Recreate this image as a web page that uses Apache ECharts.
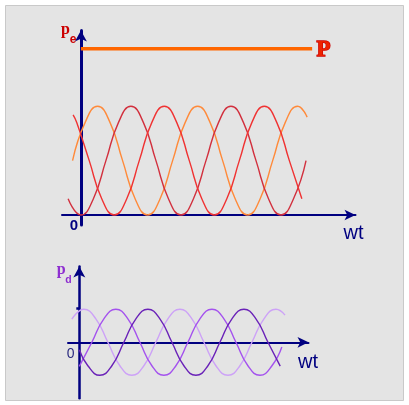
<!DOCTYPE html>
<html>
<head>
<meta charset="utf-8">
<script src="https://cdn.jsdelivr.net/npm/echarts@6/dist/echarts.min.js"></script>
<style>
  html, body { margin: 0; padding: 0; background: #ffffff; }
  #chart { width: 409px; height: 405px; }
</style>
</head>
<body>
<div id="chart"></div>
<script>
// Instantaneous power of the three phases (upper panel), wt in degrees,
// values relative to the single-phase peak.
const phaseA = [[-15, 0.5], [7.5, 0.85], [30, 1], [52.5, 0.85], [75, 0.5], [97.5, 0.15], [120, 0], [142.5, 0.15], [165, 0.5], [187.5, 0.85], [210, 1], [232.5, 0.85], [255, 0.5], [277.5, 0.15], [300, 0], [322.5, 0.15], [345, 0.5], [367.5, 0.85], [390, 1], [407, 0.9]];
const phaseB = [[-23, 0.15], [0, 0], [22.5, 0.15], [45, 0.5], [67.5, 0.85], [90, 1], [112.5, 0.85], [135, 0.5], [157.5, 0.15], [180, 0], [202.5, 0.15], [225, 0.5], [247.5, 0.85], [270, 1], [292.5, 0.85], [315, 0.5], [337.5, 0.15], [360, 0], [382.5, 0.15], [405, 0.5]];
const phaseC = [[-14, 0.92], [-7.5, 0.85], [15, 0.5], [37.5, 0.15], [60, 0], [82.5, 0.15], [105, 0.5], [127.5, 0.85], [150, 1], [172.5, 0.85], [195, 0.5], [217.5, 0.15], [240, 0], [262.5, 0.15], [285, 0.5], [307.5, 0.85], [330, 1], [352.5, 0.85], [375, 0.5], [397.5, 0.15]];
// Total (constant) power P
const totalP = [[0, 1.53], [416, 1.53]];

// Oscillating power components (lower panel)
const pdLight = [[-28, 0.68], [17, 0.97], [62, 0.69], [107, 0], [152, -0.69], [197, -0.97], [242, -0.69], [287, 0], [332, 0.69], [377, 0.97], [422, 0.69], [467, 0], [512, -0.69], [557, -0.97], [602, -0.69], [647, 0], [692, 0.69], [737, 0.97], [771, 0.8]];
const pdMedium = [[0, -0.71], [47, 0], [92, 0.69], [137, 0.97], [182, 0.69], [227, 0], [272, -0.69], [317, -0.97], [362, -0.69], [407, 0], [452, 0.69], [497, 0.97], [542, 0.69], [587, 0], [632, -0.69], [677, -0.97], [722, -0.69], [759, -0.14]];
const pdDark = [[0, -0.22], [32, -0.69], [77, -0.97], [122, -0.69], [167, 0], [212, 0.69], [257, 0.97], [302, 0.69], [347, 0], [392, -0.69], [437, -0.97], [482, -0.69], [527, 0], [572, 0.69], [617, 0.97], [662, 0.69], [707, 0], [753, -0.7]];

const NAVY = '#000080';
const RED = '#cc0000';
const PURPLE = '#8e2fd0';

const chart = echarts.init(document.getElementById('chart'), null, { renderer: 'canvas' });

function arrowAxis(width, size) {
  return {
    onZero: true,
    symbol: ['none', 'arrow'],
    symbolSize: size,
    lineStyle: { color: NAVY, width: width }
  };
}

function curve(name, data, color, xi, yi) {
  return {
    name: name,
    type: 'line',
    xAxisIndex: xi,
    yAxisIndex: yi,
    data: data,
    smooth: 0.5,
    showSymbol: false,
    symbol: 'none',
    silent: true,
    lineStyle: { color: color, width: 1.4 },
    z: 3
  };
}

chart.setOption({
  animation: false,
  backgroundColor: '#ffffff',
  grid: [
    { left: 62, right: 53.5, top: 30.5, bottom: 180 },
    { left: 68, right: 100.5, top: 266.5, bottom: 6.7 }
  ],
  xAxis: [
    {
      gridIndex: 0, type: 'value', min: -34, max: 494,
      axisLine: arrowAxis(2, [8, 11]),
      axisTick: { show: false }, axisLabel: { show: false }, splitLine: { show: false }
    },
    {
      gridIndex: 1, type: 'value', min: -42.4, max: 859,
      axisLine: arrowAxis(2, [8, 11]),
      axisTick: { show: false }, axisLabel: { show: false }, splitLine: { show: false }
    }
  ],
  yAxis: [
    {
      gridIndex: 0, type: 'value', min: -0.092, max: 1.697,
      axisLine: arrowAxis(3, [9, 11]),
      axisTick: { show: false }, axisLabel: { show: false }, splitLine: { show: false }
    },
    {
      gridIndex: 1, type: 'value', min: -1.647, max: 2.229,
      axisLine: arrowAxis(2.5, [9, 11]),
      axisTick: { show: true, customValues: [1], length: 3, lineStyle: { color: NAVY, width: 2.5 } },
      axisLabel: { show: false }, splitLine: { show: false }
    }
  ],
  series: [
    {
      name: 'P', type: 'line', xAxisIndex: 0, yAxisIndex: 0, data: totalP,
      showSymbol: false, symbol: 'none', silent: true,
      lineStyle: { color: '#ff6600', width: 3.5 }, z: 4
    },
    curve('pA', phaseA, '#ff8a3a', 0, 0),
    curve('pB', phaseB, '#d2303e', 0, 0),
    curve('pC', phaseC, '#f03232', 0, 0),
    curve('pd1', pdLight, '#cda2f7', 1, 1),
    curve('pd2', pdMedium, '#a452ee', 1, 1),
    curve('pd3', pdDark, '#6a22b8', 1, 1)
  ],
  graphic: [
    {
      type: 'rect', z: -100, silent: true,
      shape: { x: 5.5, y: 5.5, width: 398, height: 395 },
      style: { fill: '#e4e4e4', stroke: '#c9c9c9', lineWidth: 1 }
    },
    { type: 'text', x: 65.5, y: 30, z: 10, style: { text: 'p', fill: RED, font: 'bold 16px "Liberation Serif", serif', align: 'center', verticalAlign: 'middle' } },
    { type: 'text', x: 73, y: 40, z: 10, style: { text: 'e', fill: RED, font: 'bold 12px "Liberation Sans", sans-serif', align: 'center', verticalAlign: 'middle' } },
    { type: 'text', x: 323.5, y: 50, z: 10, style: { text: 'P', fill: '#ee2200', stroke: '#cc0000', lineWidth: 1.3, font: 'bold 23px "Liberation Serif", serif', align: 'center', verticalAlign: 'middle' } },
    { type: 'text', x: 74, y: 226, z: 10, style: { text: '0', fill: NAVY, font: 'bold 15px "Liberation Sans", sans-serif', align: 'center', verticalAlign: 'middle' } },
    { type: 'text', x: 353.5, y: 233, z: 10, style: { text: 'wt', fill: NAVY, font: '20px "Liberation Sans", sans-serif', align: 'center', verticalAlign: 'middle' } },
    { type: 'text', x: 61.2, y: 269.5, z: 10, style: { text: 'p', fill: PURPLE, font: 'bold 16px "Liberation Serif", serif', align: 'center', verticalAlign: 'middle' } },
    { type: 'text', x: 68.5, y: 280.6, z: 10, style: { text: 'd', fill: PURPLE, font: 'bold 10.5px "Liberation Sans", sans-serif', align: 'center', verticalAlign: 'middle' } },
    { type: 'text', x: 70.7, y: 354.3, z: 10, style: { text: '0', fill: '#2b2b80', font: '14px "Liberation Sans", sans-serif', align: 'center', verticalAlign: 'middle' } },
    { type: 'text', x: 308, y: 362.3, z: 10, style: { text: 'wt', fill: NAVY, font: '20px "Liberation Sans", sans-serif', align: 'center', verticalAlign: 'middle' } }
  ]
});
</script>
</body>
</html>
